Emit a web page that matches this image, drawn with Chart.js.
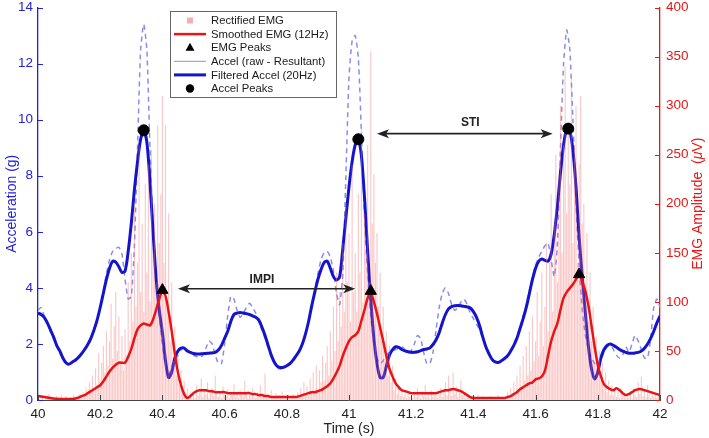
<!DOCTYPE html>
<html>
<head>
<meta charset="utf-8">
<script src="https://cdn.jsdelivr.net/npm/chart.js@4.4.0/dist/chart.umd.min.js"></script>
<style>
  html, body { margin: 0; padding: 0; background: #fff; }
  #wrap { width: 709px; height: 438px; }
</style>
</head>
<body>
<div id="wrap"><canvas id="emg" width="709" height="438"></canvas></div>
<script>
Chart.defaults.font.family = '"Liberation Sans", Arial, Helvetica, sans-serif';
Chart.defaults.font.size = 13.5;

const tStart = 40;

// rectified EMG (uV), one sample every 5 ms from 40.000 s
const rectEmg = [
  3, 1, 5, 2, 0, 4, 2, 6, 1, 3, 2, 0, 4, 1, 3, 5, 2, 1, 4, 2,
  1, 3, 2, 5, 1, 4, 2, 6, 3, 8, 4, 12, 6, 18, 9, 25, 12, 32, 15, 48,
  20, 38, 55, 28, 70, 35, 60, 98, 42, 75, 110, 50, 85, 40, 65, 30, 72, 45, 120, 60,
  150, 80, 200, 95, 140, 260, 110, 180, 90, 220, 130, 240, 100, 255, 150, 200, 120, 280, 160, 210,
  310, 140, 280, 100, 190, 60, 120, 40, 75, 25, 45, 15, 30, 8, 20, 5, 12, 3, 8, 2,
  6, 2, 15, 4, 8, 22, 3, 10, 5, 18, 2, 7, 12, 4, 25, 6, 3, 9, 2, 14,
  5, 3, 11, 2, 7, 4, 16, 3, 8, 2, 10, 5, 3, 20, 6, 2, 9, 4, 12, 3,
  2, 8, 4, 15, 3, 6, 27, 2, 5, 3, 10, 2, 4, 7, 2, 5, 3, 9, 1, 4,
  2, 5, 1, 3, 6, 2, 4, 8, 3, 12, 5, 18, 6, 14, 4, 22, 8, 28, 10, 35,
  12, 30, 18, 45, 20, 38, 55, 25, 70, 40, 95, 50, 130, 60, 110, 75, 160, 90, 200, 120,
  170, 80, 240, 110, 150, 90, 210, 130, 280, 100, 190, 150, 260, 120, 355, 180, 230, 140, 170, 95,
  130, 60, 95, 40, 70, 25, 55, 18, 35, 10, 22, 6, 15, 4, 10, 3, 8, 2, 6, 3,
  4, 2, 8, 3, 12, 5, 2, 9, 4, 15, 3, 6, 2, 10, 4, 3, 7, 2, 5, 12,
  3, 8, 18, 5, 25, 10, 4, 28, 6, 14, 3, 9, 20, 5, 8, 2, 6, 3, 4, 2,
  1, 3, 2, 5, 1, 2, 4, 1, 3, 2, 1, 4, 2, 1, 3, 2, 5, 1, 2, 3,
  2, 4, 8, 3, 12, 5, 18, 8, 25, 10, 35, 15, 45, 20, 55, 25, 70, 30, 85, 40,
  60, 110, 45, 80, 130, 55, 95, 160, 70, 140, 210, 90, 180, 250, 120, 230, 300, 150, 260, 340,
  190, 280, 220, 330, 160, 260, 300, 140, 240, 310, 180, 200, 120, 170, 80, 130, 60, 95, 40, 65,
  30, 50, 20, 38, 12, 28, 8, 20, 5, 15, 4, 10, 3, 8, 2, 12, 4, 6, 2, 5,
  3, 8, 2, 12, 5, 3, 18, 6, 24, 4, 10, 3, 15, 5, 2, 8, 3, 6, 2, 4,
  3
];

// smoothed EMG 12Hz (uV), every 10 ms
const smoothEmg = [
  4, 3.5, 3, 2.5, 2, 1.5, 1.2, 1, 1, 1,
  1, 1, 1.5, 2.5, 4, 5, 7, 9, 11, 13,
  15, 19, 24, 29, 33, 36, 38, 38, 38, 44,
  52, 63, 72, 76, 78, 77, 76, 82, 92, 103,
  111, 106, 90, 70, 47, 28, 15, 6, 2, 4,
  7, 9, 10, 10, 10, 9, 9, 8, 8, 8,
  8, 7, 7, 7, 7, 7, 7, 7, 7, 6,
  6, 5, 5, 4, 4, 3, 3, 3, 3, 3,
  3, 3, 3, 3, 4, 5, 6, 7, 8, 8,
  9, 10, 12, 14, 17, 22, 28, 35, 45, 53,
  60, 64, 66, 70, 81, 92, 104, 109, 100, 88,
  74, 60, 45, 32, 24, 17, 13, 10, 9, 8,
  7, 7, 7, 7, 7, 7, 7, 7, 7, 8,
  9, 10, 10, 11, 11, 10, 9, 7, 5, 3,
  2, 2, 2, 2, 2, 2, 2, 2, 2, 2,
  2, 3, 4, 6, 8, 11, 13, 15, 17, 18,
  21, 22, 24, 30, 45, 60, 70, 78, 92, 104,
  110, 114, 118, 123, 128, 120, 111, 96, 75, 54,
  36, 24, 16, 13, 11, 10, 12, 10, 7, 5,
  6, 8, 10, 11, 11, 10, 9, 8, 7, 6,
  5
];

// raw accel resultant (g), every 10 ms
const rawAccel = [
  3.2, 3.3, 3.0, 2.8, 2.45, 2.2, 1.95, 1.7, 1.5, 1.3,
  1.3, 1.35, 1.45, 1.5, 1.65, 1.8, 2.0, 2.2, 2.5, 2.8,
  3.3, 3.9, 4.5, 5.0, 5.3, 5.4, 5.45, 5.2, 4.3, 3.6,
  3.7, 5.5, 9.0, 12.5, 13.4, 12.5, 9.0, 6.2, 4.3, 3.0,
  2.0, 1.2, 0.9, 1.2, 1.4, 1.6, 1.8, 1.9, 1.8, 1.7,
  1.6, 1.55, 1.5, 1.6, 1.85, 2.1, 2.0, 1.6, 1.3, 1.3,
  2.0, 3.0, 3.7, 3.6, 3.2, 2.95, 3.1, 3.3, 3.45, 3.3,
  3.1, 2.8, 2.5, 2.2, 1.85, 1.55, 1.3, 1.15, 1.1, 1.15,
  1.25, 1.35, 1.45, 1.6, 1.75, 2.0, 2.35, 2.8, 3.3, 3.9,
  4.5, 5.0, 5.25, 5.3, 5.1, 4.6, 3.8, 3.4, 4.5, 8.0,
  11.5, 12.8, 13.0, 12.2, 9.5, 6.5, 4.5, 3.0, 2.0, 1.5,
  1.3, 1.4, 1.6, 1.7, 1.75, 1.8, 1.85, 1.9, 1.8, 1.7,
  1.75, 2.0, 2.3, 2.2, 1.7, 1.3, 1.3, 1.7, 2.5, 3.3,
  3.8, 4.0, 3.8, 3.4, 3.2, 3.3, 3.5, 3.6, 3.4, 3.1,
  2.9, 2.7, 2.5, 2.2, 1.9, 1.65, 1.45, 1.35, 1.35, 1.4,
  1.5, 1.6, 1.8, 2.0, 2.3, 2.6, 3.0, 3.4, 3.9, 4.4,
  4.8, 5.1, 5.3, 5.5, 5.6, 5.0, 4.4, 5.5, 9.0, 12.0,
  13.2, 12.5, 10.0, 7.0, 4.8, 3.2, 2.3, 1.8, 1.5, 1.3,
  1.2, 1.4, 1.7, 1.9, 1.95, 1.8, 1.6, 1.5, 1.6, 1.9,
  1.7, 2.0, 2.3, 2.1, 1.8, 1.5, 1.5, 2.2, 3.3, 3.6,
  3.3
];

// filtered accel 20Hz (g), every 10 ms
const filtAccel = [
  3.1, 3.05, 2.95, 2.75, 2.5, 2.25, 1.95, 1.75, 1.5, 1.33,
  1.28, 1.35, 1.42, 1.52, 1.65, 1.8, 1.98, 2.2, 2.5, 2.85,
  3.3, 3.8, 4.3, 4.7, 4.95, 4.92, 4.75, 4.55, 4.6, 5.3,
  6.3, 7.5, 8.5, 9.3, 9.6, 9.2, 7.8, 6.0, 4.3, 3.2,
  2.4, 1.4, 0.8, 1.0, 1.5, 1.75, 1.85, 1.85, 1.75, 1.7,
  1.66, 1.64, 1.64, 1.65, 1.66, 1.67, 1.68, 1.7, 1.78, 1.95,
  2.2, 2.45, 2.8, 3.05, 3.1, 3.12, 3.1, 3.08, 3.05, 3.0,
  2.95, 2.85, 2.6, 2.3, 1.95, 1.6, 1.35, 1.2, 1.16, 1.17,
  1.22, 1.3, 1.42, 1.58, 1.75, 2.0, 2.35, 2.8, 3.35, 3.85,
  4.3, 4.65, 4.9, 4.95, 4.7, 4.4, 4.28, 4.4, 5.4, 6.5,
  7.6, 8.5, 9.1, 9.3, 8.7, 7.2, 5.3, 3.6, 2.2, 1.3,
  0.8, 0.8, 1.2, 1.6, 1.8, 1.9, 1.88, 1.8, 1.75, 1.72,
  1.7, 1.7, 1.72, 1.76, 1.8, 1.82, 1.86, 1.98, 2.15, 2.4,
  2.75, 3.05, 3.25, 3.33, 3.36, 3.37, 3.36, 3.34, 3.32, 3.28,
  3.15, 2.95, 2.65, 2.25, 1.9, 1.65, 1.45, 1.36, 1.34, 1.4,
  1.48, 1.58, 1.75, 1.95, 2.2, 2.55, 2.9, 3.3, 3.8, 4.3,
  4.7, 4.95, 5.03, 4.98, 4.95, 5.2, 5.9, 6.9, 8.1, 9.1,
  9.65, 9.6, 8.9, 7.6, 5.8, 4.4, 3.1, 1.9, 1.1, 0.75,
  1.0, 1.5, 1.8, 1.95, 2.0, 1.95, 1.88, 1.8, 1.74, 1.7,
  1.67, 1.67, 1.68, 1.7, 1.75, 1.85, 2.0, 2.2, 2.45, 2.75,
  3.0
];

// detected peaks
const emgPeakT = [40.40, 41.07, 41.74];
const emgPeakV = [112, 111, 128];
const accPeakT = [40.34, 41.03, 41.705];
const accPeakV = [9.62, 9.3, 9.68];

// intervals shown with double arrows (accel units for the level)
const intervalNames = ['IMPI', 'STI'];
const intervalFrom = [40.45, 41.09];
const intervalTo = [41.02, 41.655];
const intervalLevel = [3.97, 9.5];
const labelT = [40.72, 41.39];
const labelY = [4.3, 9.88];

const BLUE = '#1414cc';
const AXBLUE = '#2222dd';
const RED = '#ea1414';
const PINK = 'rgba(242,120,120,0.42)';
const RAWBLUE = '#8c8ce8';

function series(vals, step) {
  return vals.map((v, i) => ({ x: +(tStart + i * step).toFixed(3), y: v }));
}
function points(ts, vs) {
  return ts.map((t, i) => ({ x: t, y: vs[i] }));
}

function arrowHead(ctx, x, y, dir) {
  const L = 12, W = 4.5, N = 3;
  ctx.beginPath();
  ctx.moveTo(x, y);
  ctx.lineTo(x - dir * L, y - W);
  ctx.lineTo(x - dir * (L - N), y);
  ctx.lineTo(x - dir * L, y + W);
  ctx.closePath();
  ctx.fill();
}

const extras = {
  id: 'extras',
  afterDatasetsDraw(chart) {
    const { ctx, scales } = chart;
    const x = scales.x, yA = scales.yA;
    ctx.save();
    ctx.strokeStyle = '#222';
    ctx.fillStyle = '#222';
    ctx.lineWidth = 1.6;
    intervalNames.forEach((name, i) => {
      const x1 = x.getPixelForValue(intervalFrom[i]);
      const x2 = x.getPixelForValue(intervalTo[i]);
      const y = yA.getPixelForValue(intervalLevel[i]);
      ctx.beginPath();
      ctx.moveTo(x1 + 8, y);
      ctx.lineTo(x2 - 8, y);
      ctx.stroke();
      arrowHead(ctx, x1, y, -1);
      arrowHead(ctx, x2, y, 1);
      ctx.font = 'bold 12px "Liberation Sans", Arial, sans-serif';
      ctx.textAlign = 'center';
      ctx.textBaseline = 'middle';
      ctx.fillText(name, x.getPixelForValue(labelT[i]), yA.getPixelForValue(labelY[i]));
    });
    ctx.restore();
  },
  afterDraw(chart) {
    const { ctx, chartArea: a, scales } = chart;
    ctx.save();
    // inward tick marks
    ctx.lineWidth = 1;
    ctx.strokeStyle = AXBLUE;
    scales.yA.ticks.forEach(t => {
      const y = Math.round(scales.yA.getPixelForValue(t.value)) + 0.5;
      ctx.beginPath(); ctx.moveTo(a.left, y); ctx.lineTo(a.left + 5, y); ctx.stroke();
    });
    ctx.strokeStyle = RED;
    scales.yE.ticks.forEach(t => {
      const y = Math.round(scales.yE.getPixelForValue(t.value)) + 0.5;
      ctx.beginPath(); ctx.moveTo(a.right, y); ctx.lineTo(a.right - 5, y); ctx.stroke();
    });
    ctx.strokeStyle = '#444';
    scales.x.ticks.forEach(t => {
      const xx = Math.round(scales.x.getPixelForValue(t.value)) + 0.5;
      ctx.beginPath(); ctx.moveTo(xx, a.bottom); ctx.lineTo(xx, a.bottom - 5); ctx.stroke();
    });

    // axis titles
    ctx.font = '14px "Liberation Sans", Arial, sans-serif';
    ctx.textBaseline = 'middle';
    ctx.textAlign = 'center';
    const midY = (a.top + a.bottom) / 2;
    ctx.save();
    ctx.translate(12, midY);
    ctx.rotate(-Math.PI / 2);
    ctx.fillStyle = AXBLUE;
    ctx.fillText('Acceleration (g)', 0, 0);
    ctx.restore();

    ctx.save();
    ctx.translate(698, midY);
    ctx.rotate(-Math.PI / 2);
    ctx.fillStyle = RED;
    const p1 = 'EMG Amplitude  (', p2 = 'μ', p3 = 'V)';
    const reg = '14px "Liberation Sans", Arial, sans-serif';
    const ita = 'italic 14px "Liberation Sans", Arial, sans-serif';
    ctx.font = reg; const w1 = ctx.measureText(p1).width, w3 = ctx.measureText(p3).width;
    ctx.font = ita; const w2 = ctx.measureText(p2).width;
    let px = -(w1 + w2 + w3) / 2;
    ctx.textAlign = 'left';
    ctx.font = reg; ctx.fillText(p1, px, 0); px += w1;
    ctx.font = ita; ctx.fillText(p2, px, 0); px += w2;
    ctx.font = reg; ctx.fillText(p3, px, 0);
    ctx.restore();

    ctx.fillStyle = '#222';
    ctx.textAlign = 'center';
    ctx.fillText('Time (s)', (a.left + a.right) / 2, 429);

    // legend box
    const lx = 170, ly = 11, lw = 166, lh = 86;
    ctx.fillStyle = '#fff';
    ctx.fillRect(lx, ly, lw, lh);
    ctx.strokeStyle = '#666';
    ctx.lineWidth = 1;
    ctx.strokeRect(lx + 0.5, ly + 0.5, lw, lh);
    const labels = ['Rectified EMG', 'Smoothed EMG (12Hz)', 'EMG Peaks',
      'Accel (raw - Resultant)', 'Filtered Accel (20Hz)', 'Accel Peaks'];
    ctx.font = '11.3px "Liberation Sans", Arial, sans-serif';
    ctx.textAlign = 'left';
    labels.forEach((lab, i) => {
      const y = ly + 9.5 + i * 13.6;
      const sx = lx + 4, ex = lx + 36, cx = lx + 20;
      if (i === 0) {
        ctx.fillStyle = 'rgba(242,120,120,0.6)'; ctx.fillRect(cx - 3, y - 3, 6, 6);
      } else if (i === 1 || i === 3 || i === 4) {
        ctx.strokeStyle = i === 1 ? RED : (i === 3 ? RAWBLUE : BLUE);
        ctx.lineWidth = i === 3 ? 1 : (i === 1 ? 2.5 : 3);
        ctx.beginPath(); ctx.moveTo(sx, y); ctx.lineTo(ex, y); ctx.stroke();
      } else if (i === 2) {
        ctx.fillStyle = '#000';
        ctx.beginPath(); ctx.moveTo(cx, y - 5); ctx.lineTo(cx + 4.5, y + 3); ctx.lineTo(cx - 4.5, y + 3); ctx.closePath(); ctx.fill();
      } else {
        ctx.fillStyle = '#000';
        ctx.beginPath(); ctx.arc(cx, y, 4.2, 0, Math.PI * 2); ctx.fill();
      }
      ctx.fillStyle = '#1a1a1a';
      ctx.fillText(lab, lx + 41, y + 0.5);
    });
    ctx.restore();
  }
};

new Chart(document.getElementById('emg').getContext('2d'), {
  type: 'line',
  data: {
    datasets: [{
      label: 'Accel Peaks',
      data: points(accPeakT, accPeakV),
      yAxisID: 'yA',
      showLine: false,
      pointStyle: 'circle',
      pointRadius: 5.5,
      backgroundColor: '#000',
      borderColor: '#000',
      order: 0
    }, {
      label: 'EMG Peaks',
      data: points(emgPeakT, emgPeakV),
      yAxisID: 'yE',
      showLine: false,
      pointStyle: 'triangle',
      pointRadius: 6.5,
      backgroundColor: '#000',
      borderColor: '#000',
      order: 1
    }, {
      label: 'Smoothed EMG (12Hz)',
      data: series(smoothEmg, 0.01),
      yAxisID: 'yE',
      borderColor: RED,
      borderWidth: 2.5,
      pointRadius: 0,
      tension: 0.3,
      order: 2
    }, {
      type: 'bar',
      label: 'Rectified EMG',
      data: series(rectEmg, 0.005),
      yAxisID: 'yE',
      backgroundColor: PINK,
      borderWidth: 0,
      barThickness: 1.1,
      inflateAmount: 0,
      order: 3
    }, {
      label: 'Filtered Accel (20Hz)',
      data: series(filtAccel, 0.01),
      yAxisID: 'yA',
      borderColor: BLUE,
      borderWidth: 3,
      pointRadius: 0,
      tension: 0.3,
      order: 4
    }, {
      label: 'Accel (raw - Resultant)',
      data: series(rawAccel, 0.01),
      yAxisID: 'yA',
      borderColor: RAWBLUE,
      borderWidth: 1.5,
      borderDash: [5, 4],
      pointRadius: 0,
      tension: 0.2,
      order: 5
    }]
  },
  options: {
    responsive: false,
    animation: false,
    devicePixelRatio: 1,
    layout: { padding: { top: 5, left: 0, right: 0, bottom: 0 } },
    plugins: { legend: { display: false }, tooltip: { enabled: false } },
    scales: {
      x: {
        type: 'linear', min: 40, max: 42, offset: false,
        grid: { display: false, drawTicks: false },
        border: { color: '#444', width: 1 },
        ticks: { stepSize: 0.2, color: '#222', padding: 6, maxRotation: 0, autoSkip: false,
          callback: v => String(+v.toFixed(1)) },
        afterFit: s => { s.height = 38; s.paddingLeft = 0; s.paddingRight = 0; }
      },
      yA: {
        position: 'left', min: 0, max: 14,
        grid: { display: false, drawTicks: false },
        border: { color: AXBLUE, width: 1.3 },
        ticks: { stepSize: 2, color: AXBLUE, padding: 5 },
        afterFit: s => { s.width = 38; s.paddingTop = 0; s.paddingBottom = 0; }
      },
      yE: {
        position: 'right', min: 0, max: 400,
        grid: { display: false, drawTicks: false },
        border: { color: RED, width: 1.3 },
        ticks: { stepSize: 50, color: RED, padding: 6 },
        afterFit: s => { s.width = 49; s.paddingTop = 0; s.paddingBottom = 0; }
      }
    }
  },
  plugins: [extras]
});
</script>
</body>
</html>
